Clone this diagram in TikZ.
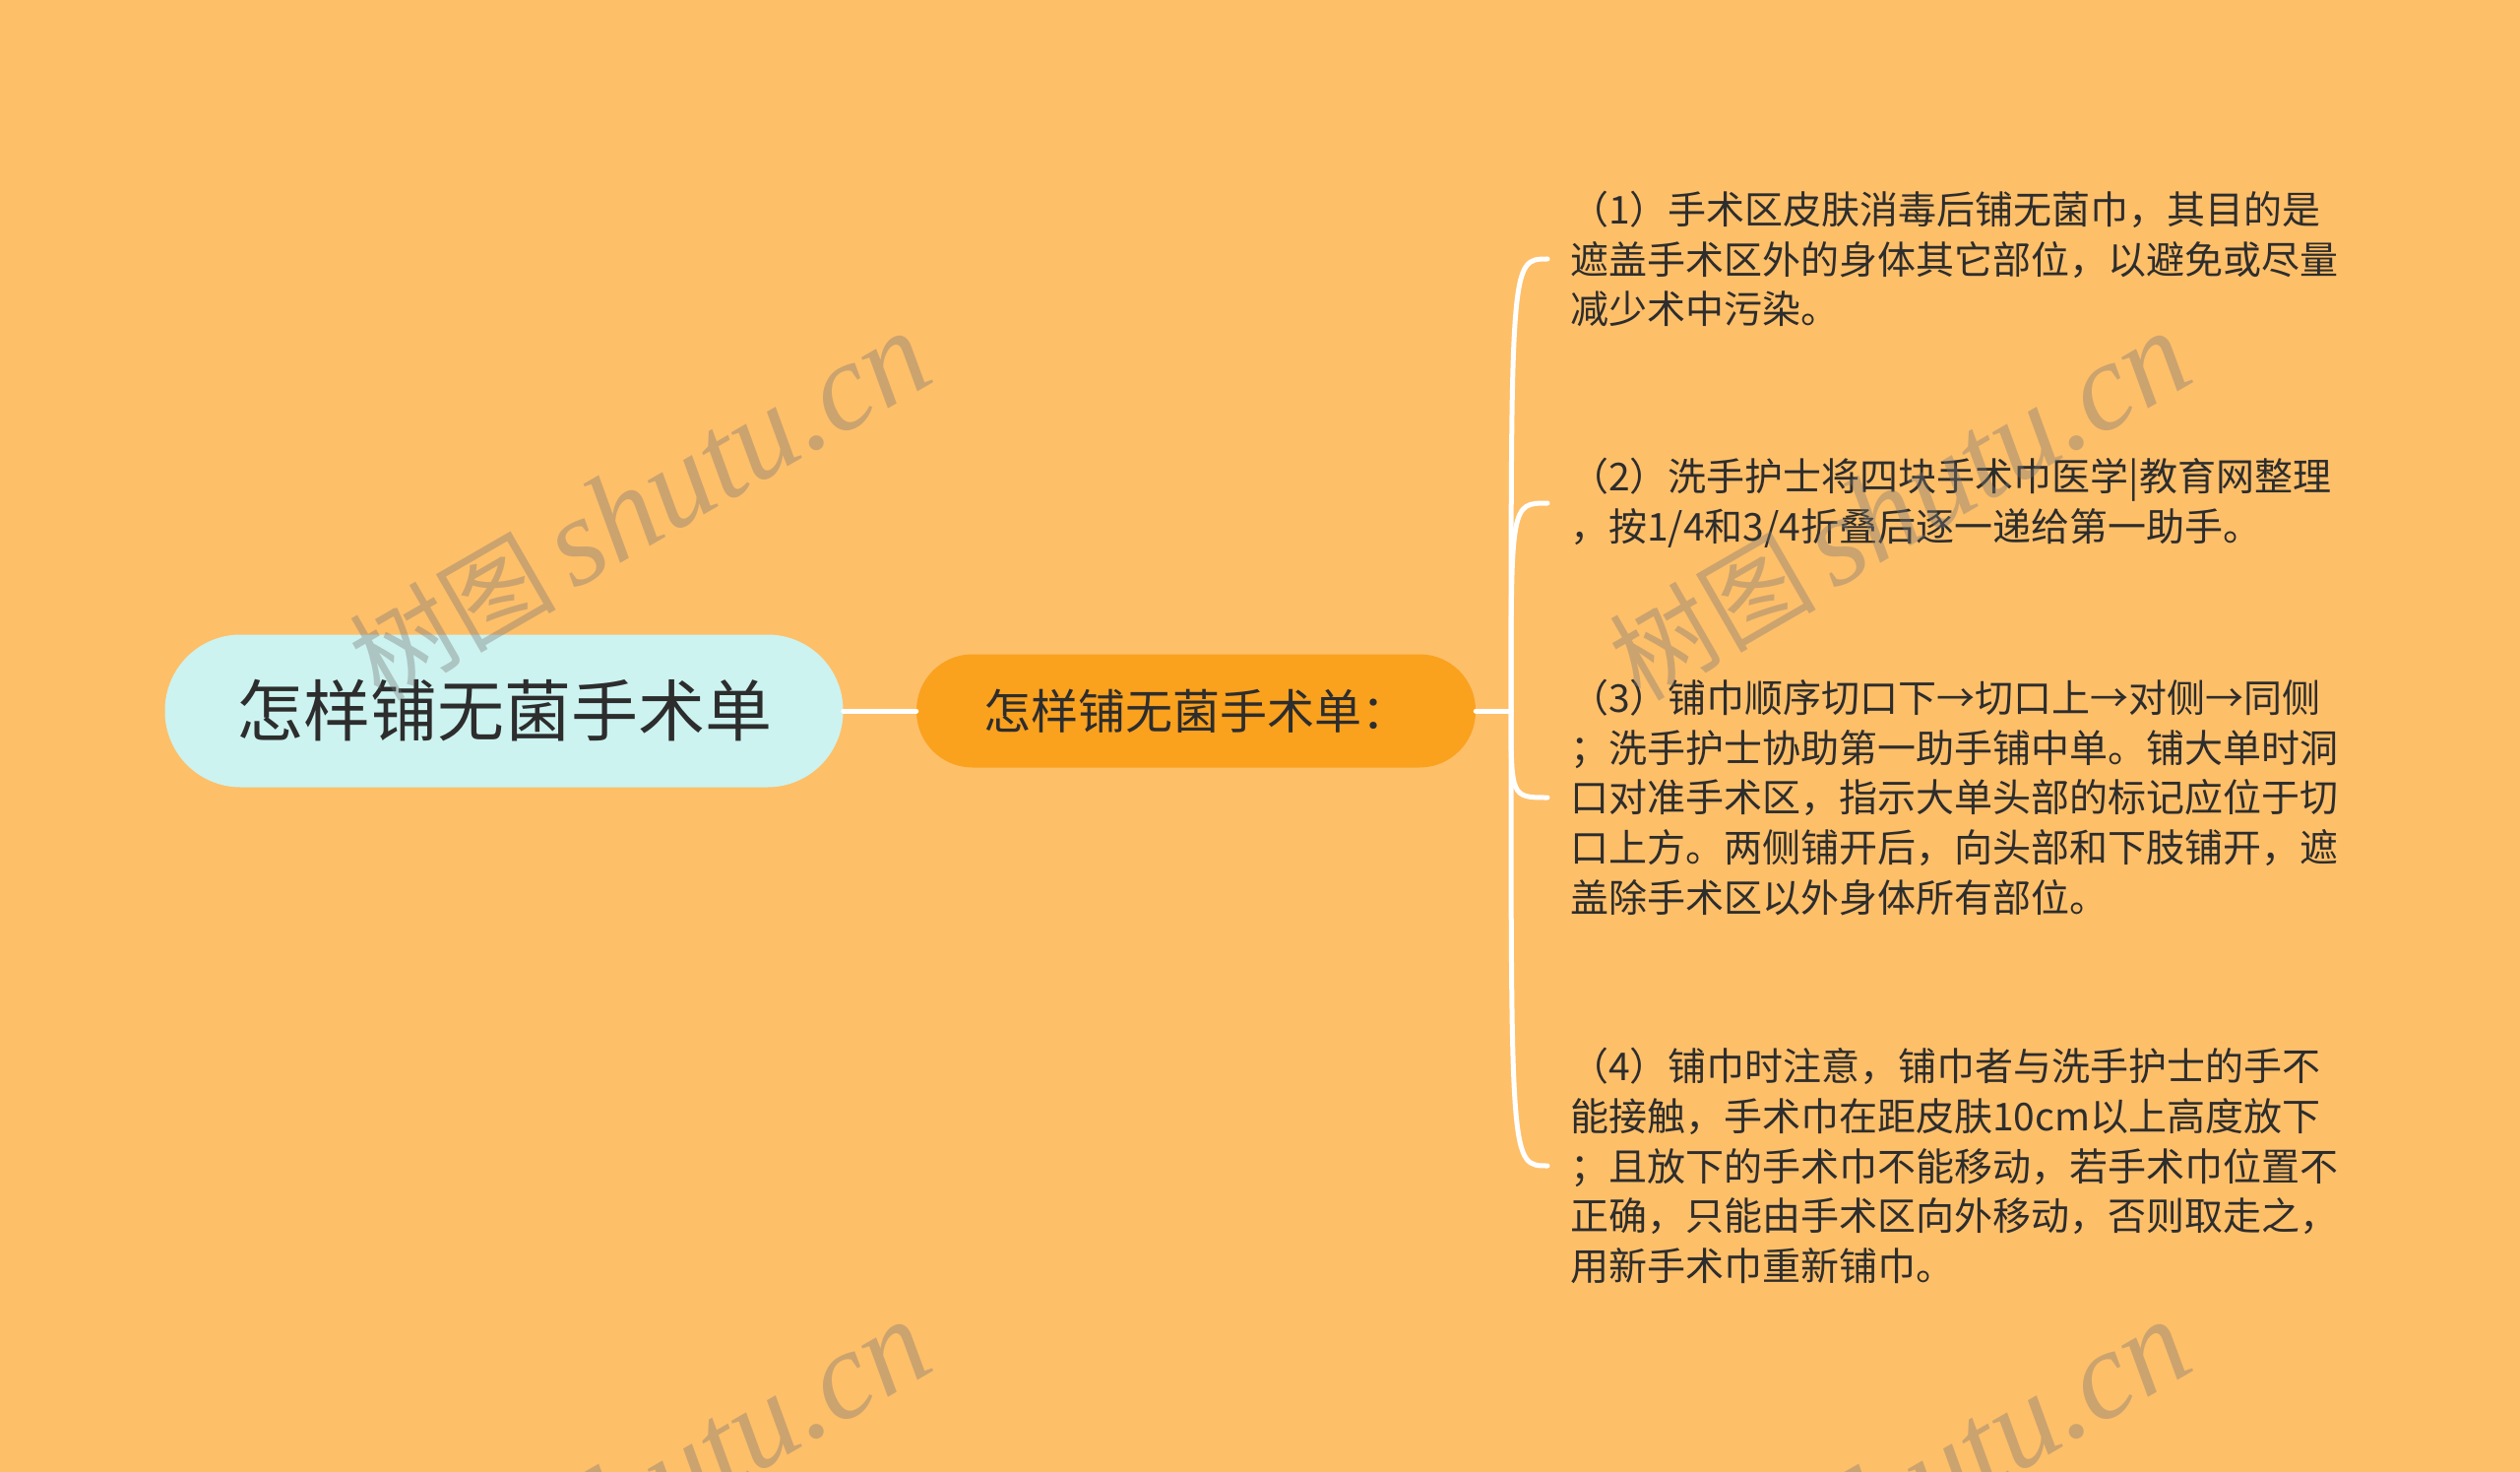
\documentclass[tikz,border=0pt]{standalone}
\usepackage{fontspec}
\setmainfont{Noto Sans CJK SC}
\newfontfamily\wmlatin{Liberation Serif}
\definecolor{bgc}{RGB}{254,191,105}
\definecolor{rootc}{RGB}{204,243,240}
\definecolor{subc}{RGB}{250,161,30}
\definecolor{txtc}{RGB}{45,45,45}
\definecolor{wmc}{RGB}{120,120,120}
\tikzset{
  rootbox/.style={fill=rootc, rounded corners=77pt, inner sep=0pt, text=txtc,
    minimum width=689pt, minimum height=155pt, font=\fontsize{68}{80}\selectfont},
  subbox/.style={fill=subc, rounded corners=57pt, inner sep=0pt, text=txtc,
    minimum width=568pt, minimum height=115pt, font=\fontsize{48}{58}\selectfont},
  itembox/.style={anchor=west, align=left, inner sep=0pt, text=txtc,
    font=\fontsize{39}{50.6}\selectfont},
  link/.style={draw=white, line width=5pt, line cap=round},
  wmark/.style={rotate=30, text=wmc, opacity=0.38, inner sep=0pt}
}
\begin{document}
\begin{tikzpicture}[x=1pt,y=-1pt]
\fill[bgc] (0,0) rectangle (2560,1495);
\useasboundingbox (0,0) rectangle (2560,1495);

\node[rootbox] (root) at (512,722) {怎样铺无菌手术单};
\node[subbox] (sub) at (1215,722) {怎样铺无菌手术单：};

\node[itembox] (t1) at (1595,263) {（1）手术区皮肤消毒后铺无菌巾，其目的是\\遮盖手术区外的身体其它部位，以避免或尽量\\减少术中污染。};
\node[itembox] (t2) at (1595,511) {（2）洗手护士将四块手术巾医学|教育网整理\\，按1/4和3/4折叠后逐一递给第一助手。};
\node[itembox] (t3) at (1595,810) {（3）铺巾顺序切口下→切口上→对侧→同侧\\；洗手护士协助第一助手铺中单。铺大单时洞\\口对准手术区，指示大单头部的标记应位于切\\口上方。两侧铺开后，向头部和下肢铺开，遮\\盖除手术区以外身体所有部位。};
\node[itembox] (t4) at (1595,1184) {（4）铺巾时注意，铺巾者与洗手护士的手不\\能接触，手术巾在距皮肤10cm以上高度放下\\；且放下的手术巾不能移动，若手术巾位置不\\正确，只能由手术区向外移动，否则取走之，\\用新手术巾重新铺巾。};

\coordinate (J) at (1535,722);
\coordinate (e1) at (1572,263);
\coordinate (e2) at (1572,511);
\coordinate (e3) at (1572,810);
\coordinate (e4) at (1572,1184);

\draw[link] (root.east) -- (sub.west);
\draw[link] (sub.east) -- (J);
\draw[link] (J) .. controls (J |- e1) .. (e1);
\draw[link] (J) .. controls (J |- e2) .. (e2);
\draw[link] (J) .. controls (J |- e3) .. (e3);
\draw[link] (J) .. controls (J |- e4) .. (e4);

\node[wmark] (w1) at (650,515) {\fontsize{105}{112}\selectfont 树图\,{\wmlatin\itshape\fontsize{127}{132}\selectfont shutu.cn}};
\node[wmark] (w2) at (1930,515) {\fontsize{105}{112}\selectfont 树图\,{\wmlatin\itshape\fontsize{127}{132}\selectfont shutu.cn}};
\node[wmark] (w3) at (650,1519) {\fontsize{105}{112}\selectfont 树图\,{\wmlatin\itshape\fontsize{127}{132}\selectfont shutu.cn}};
\node[wmark] (w4) at (1930,1519) {\fontsize{105}{112}\selectfont 树图\,{\wmlatin\itshape\fontsize{127}{132}\selectfont shutu.cn}};
\end{tikzpicture}
\end{document}
